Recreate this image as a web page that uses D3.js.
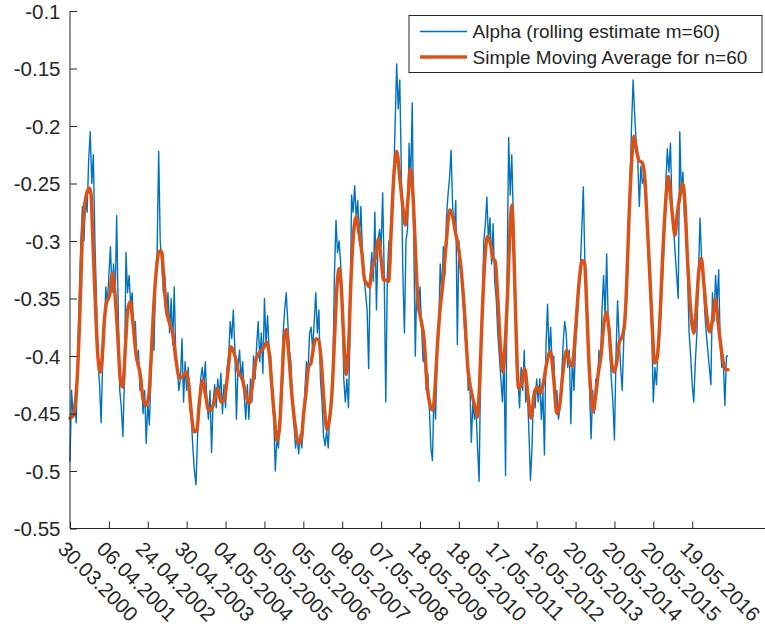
<!DOCTYPE html>
<html>
<head>
<meta charset="utf-8">
<script src="https://cdn.jsdelivr.net/npm/d3@7"></script>
<style>
  body { margin: 0; background: #fff; }
  svg text { font-family: "Liberation Sans", Arial, Helvetica, sans-serif; fill: #262626; }
</style>
</head>
<body>
<svg id="chart" width="765" height="636"></svg>
<script>
// observation index of each date tick (one every 250 trading days)
const tickIndex = [0, 250, 500, 750, 1000, 1250, 1500, 1750, 2000, 2250, 2500, 2750, 3000, 3250, 3500, 3750, 4000];
const tickLabels = ['30.03.2000', '06.04.2001', '24.04.2002', '30.04.2003', '04.05.2004', '05.05.2005',
  '05.05.2006', '08.05.2007', '07.05.2008', '18.05.2009', '18.05.2010', '17.05.2011', '16.05.2012',
  '20.05.2013', '20.05.2014', '20.05.2015', '19.05.2016'];
const yTicks = [-0.55, -0.5, -0.45, -0.4, -0.35, -0.3, -0.25, -0.2, -0.15, -0.1];

const alphaStep = 10;
const alpha = [
  -0.492,-0.430,-0.452,-0.440,-0.458,-0.400,-0.345,-0.300,-0.270,-0.300,-0.262,-0.275,-0.230,-0.205,-0.250,-0.225,-0.300,-0.350,-0.405,-0.425,-0.458,-0.405,-0.380,-0.340,-0.355,
  -0.330,-0.305,-0.345,-0.320,-0.350,-0.278,-0.360,-0.430,-0.445,-0.470,-0.420,-0.310,-0.345,-0.330,-0.355,-0.345,-0.385,-0.370,-0.405,-0.395,-0.430,-0.420,-0.450,-0.430,-0.476,
  -0.440,-0.460,-0.420,-0.380,-0.395,-0.330,-0.310,-0.222,-0.300,-0.320,-0.345,-0.330,-0.365,-0.345,-0.380,-0.350,-0.390,-0.340,-0.400,-0.410,-0.430,-0.420,-0.385,-0.440,-0.405,
  -0.430,-0.410,-0.445,-0.455,-0.480,-0.500,-0.512,-0.470,-0.445,-0.420,-0.410,-0.425,-0.405,-0.440,-0.455,-0.430,-0.484,-0.440,-0.425,-0.445,-0.420,-0.435,-0.415,-0.450,-0.425,
  -0.445,-0.410,-0.400,-0.370,-0.385,-0.360,-0.395,-0.455,-0.410,-0.395,-0.420,-0.405,-0.435,-0.455,-0.425,-0.455,-0.420,-0.440,-0.400,-0.420,-0.390,-0.370,-0.405,-0.380,-0.415,
  -0.350,-0.390,-0.365,-0.395,-0.400,-0.430,-0.455,-0.500,-0.470,-0.480,-0.455,-0.420,-0.380,-0.360,-0.345,-0.370,-0.395,-0.405,-0.440,-0.460,-0.480,-0.470,-0.485,-0.468,-0.480,
  -0.460,-0.430,-0.405,-0.415,-0.380,-0.375,-0.395,-0.370,-0.345,-0.380,-0.360,-0.420,-0.440,-0.470,-0.478,-0.465,-0.480,-0.450,-0.440,-0.410,-0.330,-0.282,-0.310,-0.300,-0.320,
  -0.355,-0.420,-0.440,-0.420,-0.445,-0.380,-0.260,-0.275,-0.252,-0.280,-0.265,-0.300,-0.270,-0.310,-0.330,-0.345,-0.360,-0.411,-0.330,-0.310,-0.335,-0.275,-0.360,-0.300,-0.290,
  -0.305,-0.258,-0.330,-0.440,-0.330,-0.300,-0.320,-0.265,-0.250,-0.200,-0.146,-0.185,-0.160,-0.240,-0.330,-0.380,-0.300,-0.290,-0.215,-0.250,-0.180,-0.300,-0.400,-0.330,-0.360,
  -0.340,-0.375,-0.405,-0.395,-0.430,-0.415,-0.445,-0.480,-0.491,-0.430,-0.455,-0.400,-0.380,-0.320,-0.345,-0.305,-0.330,-0.280,-0.260,-0.245,-0.221,-0.270,-0.290,-0.265,-0.390,
  -0.300,-0.320,-0.330,-0.360,-0.385,-0.395,-0.430,-0.420,-0.475,-0.440,-0.455,-0.445,-0.480,-0.509,-0.410,-0.360,-0.300,-0.285,-0.262,-0.300,-0.280,-0.320,-0.285,-0.335,-0.350,
  -0.380,-0.400,-0.420,-0.440,-0.400,-0.504,-0.330,-0.210,-0.260,-0.225,-0.280,-0.340,-0.410,-0.420,-0.445,-0.410,-0.430,-0.395,-0.440,-0.430,-0.465,-0.508,-0.480,-0.430,-0.445,
  -0.420,-0.440,-0.420,-0.455,-0.430,-0.486,-0.390,-0.355,-0.400,-0.375,-0.410,-0.400,-0.440,-0.430,-0.455,-0.445,-0.420,-0.390,-0.370,-0.380,-0.410,-0.395,-0.459,-0.400,-0.430,
  -0.390,-0.370,-0.340,-0.325,-0.290,-0.253,-0.320,-0.340,-0.380,-0.430,-0.472,-0.430,-0.450,-0.420,-0.430,-0.395,-0.410,-0.360,-0.330,-0.365,-0.311,-0.370,-0.395,-0.420,-0.440,
  -0.473,-0.400,-0.352,-0.385,-0.410,-0.430,-0.385,-0.365,-0.345,-0.300,-0.250,-0.200,-0.160,-0.190,-0.215,-0.230,-0.270,-0.235,-0.250,-0.245,-0.265,-0.285,-0.320,-0.345,-0.380,
  -0.440,-0.410,-0.425,-0.395,-0.380,-0.360,-0.330,-0.300,-0.250,-0.220,-0.240,-0.215,-0.270,-0.290,-0.310,-0.330,-0.350,-0.205,-0.260,-0.240,-0.280,-0.270,-0.330,-0.380,-0.400,
  -0.425,-0.440,-0.405,-0.380,-0.330,-0.280,-0.315,-0.330,-0.360,-0.380,-0.395,-0.410,-0.425,-0.345,-0.370,-0.330,-0.355,-0.325,-0.390,-0.410,-0.405,-0.443,-0.400,-0.400
];

// 60-day simple moving average, [observation, value]
const sma = [
  [0,-0.454],[20,-0.452],[35,-0.440],[50,-0.410],[64,-0.360],[81,-0.292],[95,-0.268],[107,-0.259],[124,-0.254],[135,-0.259],
  [146,-0.296],[163,-0.354],[178,-0.398],[195,-0.414],[206,-0.403],[221,-0.369],[236,-0.353],[253,-0.348],[274,-0.328],[285,-0.340],
  [306,-0.380],[324,-0.421],[339,-0.427],[356,-0.392],[371,-0.360],[386,-0.353],[403,-0.369],[424,-0.398],[450,-0.415],[471,-0.438],
  [489,-0.443],[506,-0.435],[521,-0.403],[536,-0.363],[553,-0.328],[574,-0.309],[589,-0.309],[602,-0.331],[617,-0.357],[639,-0.371],
  [660,-0.380],[681,-0.403],[703,-0.419],[724,-0.418],[746,-0.414],[763,-0.424],[778,-0.447],[799,-0.466],[816,-0.464],[831,-0.441],
  [853,-0.421],[870,-0.433],[891,-0.447],[906,-0.447],[924,-0.441],[949,-0.428],[971,-0.440],[992,-0.438],[1014,-0.415],[1035,-0.392],
  [1056,-0.398],[1063,-0.401],[1084,-0.415],[1106,-0.419],[1127,-0.432],[1153,-0.441],[1174,-0.424],[1196,-0.403],[1223,-0.396],[1245,-0.393],
  [1266,-0.388],[1281,-0.398],[1298,-0.427],[1316,-0.456],[1331,-0.474],[1346,-0.464],[1363,-0.421],[1378,-0.383],[1391,-0.377],[1406,-0.398],
  [1427,-0.435],[1448,-0.461],[1470,-0.476],[1487,-0.472],[1502,-0.450],[1517,-0.432],[1534,-0.409],[1549,-0.406],[1566,-0.392],[1581,-0.385],
  [1598,-0.386],[1616,-0.406],[1630,-0.435],[1652,-0.464],[1667,-0.456],[1684,-0.432],[1701,-0.383],[1716,-0.340],[1731,-0.324],[1744,-0.340],
  [1759,-0.383],[1776,-0.416],[1791,-0.392],[1806,-0.334],[1823,-0.293],[1840,-0.279],[1855,-0.290],[1877,-0.311],[1894,-0.334],[1909,-0.337],
  [1924,-0.340],[1941,-0.325],[1963,-0.314],[1984,-0.298],[2001,-0.317],[2016,-0.334],[2031,-0.334],[2048,-0.335],[2065,-0.290],[2080,-0.247],
  [2100,-0.222],[2120,-0.245],[2141,-0.272],[2155,-0.286],[2173,-0.263],[2188,-0.237],[2205,-0.260],[2220,-0.306],[2237,-0.353],[2254,-0.367],
  [2276,-0.385],[2297,-0.428],[2316,-0.443],[2333,-0.447],[2348,-0.425],[2361,-0.393],[2376,-0.364],[2398,-0.335],[2419,-0.301],[2441,-0.273],
  [2462,-0.280],[2477,-0.292],[2494,-0.303],[2516,-0.327],[2537,-0.364],[2558,-0.411],[2580,-0.431],[2601,-0.443],[2618,-0.453],[2633,-0.425],
  [2648,-0.370],[2666,-0.318],[2683,-0.296],[2704,-0.303],[2719,-0.315],[2734,-0.318],[2751,-0.353],[2768,-0.393],[2783,-0.414],[2798,-0.388],
  [2816,-0.335],[2831,-0.283],[2841,-0.269],[2854,-0.312],[2869,-0.385],[2884,-0.428],[2901,-0.425],[2923,-0.411],[2944,-0.434],[2965,-0.454],
  [2983,-0.434],[3004,-0.427],[3025,-0.432],[3045,-0.422],[3066,-0.405],[3088,-0.396],[3109,-0.419],[3130,-0.450],[3148,-0.443],[3169,-0.414],
  [3193,-0.395],[3208,-0.404],[3229,-0.409],[3250,-0.377],[3272,-0.337],[3293,-0.317],[3308,-0.319],[3321,-0.354],[3336,-0.406],[3351,-0.435],
  [3364,-0.448],[3379,-0.435],[3396,-0.415],[3415,-0.398],[3432,-0.372],[3448,-0.362],[3465,-0.377],[3482,-0.406],[3497,-0.414],[3514,-0.406],
  [3531,-0.388],[3550,-0.383],[3565,-0.372],[3578,-0.340],[3593,-0.282],[3610,-0.232],[3625,-0.209],[3642,-0.221],[3658,-0.230],[3679,-0.232],
  [3696,-0.247],[3711,-0.285],[3728,-0.331],[3743,-0.374],[3758,-0.406],[3775,-0.401],[3793,-0.366],[3808,-0.319],[3829,-0.267],[3846,-0.244],
  [3861,-0.261],[3876,-0.282],[3889,-0.295],[3904,-0.276],[3921,-0.261],[3940,-0.250],[3953,-0.267],[3968,-0.311],[3990,-0.360],[4011,-0.380],
  [4028,-0.354],[4043,-0.325],[4058,-0.315],[4075,-0.337],[4092,-0.363],[4112,-0.379],[4133,-0.366],[4150,-0.350],[4165,-0.369],[4182,-0.389],
  [4200,-0.406],[4215,-0.412],[4230,-0.412]
];

const legendNames = ['Alpha (rolling estimate m=60)', 'Simple Moving Average for n=60'];

(function(){
  const svg = d3.select('#chart');
  const axisColor = '#262626';
  const blue = '#0072BD';
  const orange = '#D95319';

  const x = d3.scaleLinear().domain([0, 4500]).range([70, 770]);
  const y = d3.scaleLinear().domain([-0.55, -0.1]).range([528.5, 11]);

  // series
  const line = d3.line().x(d => x(d[0])).y(d => y(d[1]));
  svg.append('path')
    .datum(alpha.map((v, i) => [i * alphaStep, v]))
    .attr('d', line)
    .attr('fill', 'none')
    .attr('stroke', blue)
    .attr('stroke-width', 1.4)
    .attr('stroke-linejoin', 'round');

  svg.append('path')
    .datum(sma)
    .attr('d', line.curve(d3.curveMonotoneX))
    .attr('fill', 'none')
    .attr('stroke', orange)
    .attr('stroke-width', 3.5)
    .attr('stroke-linejoin', 'round')
    .attr('stroke-linecap', 'round');

  // y axis, ticks pointing inward
  const yAxis = svg.append('g')
    .attr('transform', 'translate(70,0)')
    .call(d3.axisRight(y).tickValues(yTicks).tickSize(7).tickFormat(d => String(+d.toFixed(2))));
  yAxis.select('.domain').attr('stroke', axisColor).attr('d', 'M0,' + y(-0.1) + 'V' + y(-0.55));
  yAxis.selectAll('.tick line').attr('stroke', axisColor);
  yAxis.selectAll('.tick text')
    .attr('x', -9.5).attr('dy', '0.36em')
    .attr('text-anchor', 'end')
    .attr('font-size', '20.5px')
    .attr('fill', axisColor);

  // x axis, ticks pointing up, rotated date labels
  const xAxis = svg.append('g')
    .attr('transform', 'translate(0,' + y(-0.55) + ')')
    .call(d3.axisTop(x).tickValues(tickIndex).tickSize(7).tickFormat((d, i) => tickLabels[i]));
  xAxis.select('.domain').attr('stroke', axisColor).attr('d', 'M70,0H770');
  xAxis.selectAll('.tick line').attr('stroke', axisColor);
  xAxis.selectAll('.tick text')
    .attr('x', 0).attr('y', 0)
    .attr('transform', 'translate(0,8) rotate(45)')
    .attr('dy', '19.5px')
    .attr('text-anchor', 'start')
    .attr('font-size', '20.5px')
    .attr('fill', axisColor);

  // legend
  const legend = svg.append('g').attr('transform', 'translate(409,15.5)');
  legend.append('rect')
    .attr('width', 353).attr('height', 57)
    .attr('fill', '#fff')
    .attr('stroke', axisColor)
    .attr('stroke-width', 1);
  legendNames.forEach(function(name, i){
    const cy = 16 + i * 25.5;
    legend.append('line')
      .attr('x1', 11).attr('x2', 58).attr('y1', cy).attr('y2', cy)
      .attr('stroke', i == 0 ? blue : orange)
      .attr('stroke-width', i == 0 ? 1.4 : 3.5);
    legend.append('text')
      .text(name)
      .attr('x', 63.5).attr('y', cy).attr('dy', '0.36em')
      .attr('font-size', '19px')
      .attr('fill', '#000');
  });
})();
</script>
</body>
</html>
